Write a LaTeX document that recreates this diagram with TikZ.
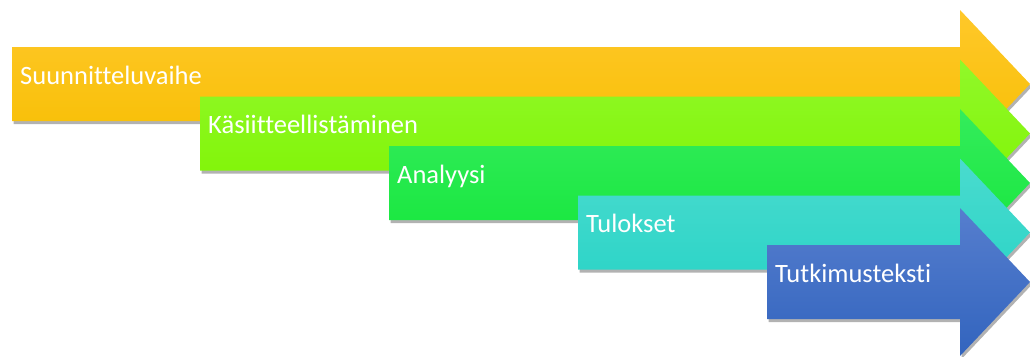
\documentclass[tikz,border=0pt]{standalone}
\usepackage{fontspec}
\setmainfont{Carlito}[Ligatures={NoCommon}]
\usetikzlibrary{shadows}
\definecolor{o1}{RGB}{255,200,42}
\definecolor{o2}{RGB}{246,190,0}
\definecolor{g1}{RGB}{145,248,42}
\definecolor{g2}{RGB}{126,244,0}
\definecolor{e1}{RGB}{52,236,92}
\definecolor{e2}{RGB}{20,230,58}
\definecolor{t1}{RGB}{74,219,206}
\definecolor{t2}{RGB}{38,211,198}
\definecolor{b1}{RGB}{86,126,206}
\definecolor{b2}{RGB}{50,100,190}
\tikzset{
  arrowshape/.style={drop shadow={shadow xshift=1.5pt,shadow yshift=-3pt,opacity=0.3,fill=black}},
  stagelabel/.style={anchor=base west,inner sep=0pt,text=white,font=\fontsize{26.5}{30}\selectfont}
}
\newcommand\stagearrow[6]{%
  \path[arrowshape,top color=#4,bottom color=#5]
    (#2,#3-37) -- (960,#3-37) -- (960,#3-74) -- (1030,#3) -- (960,#3+74)
    -- (960,#3+37) -- (#2,#3+37) -- cycle;
  \node[stagelabel] (#1) at (#2+8,#3) {#6};
}
\begin{document}
\begin{tikzpicture}[x=1pt,y=-1pt]
\useasboundingbox (0,0) rectangle (1030,356);
\stagearrow{s1}{12}{84}{o1}{o2}{Suunnitteluvaihe}
\stagearrow{s2}{200}{133.5}{g1}{g2}{Käsiitteellistäminen}
\stagearrow{s3}{389}{183}{e1}{e2}{Analyysi}
\stagearrow{s4}{578}{232.5}{t1}{t2}{Tulokset}
\stagearrow{s5}{767}{282}{b1}{b2}{Tutkimusteksti}
\end{tikzpicture}
\end{document}
